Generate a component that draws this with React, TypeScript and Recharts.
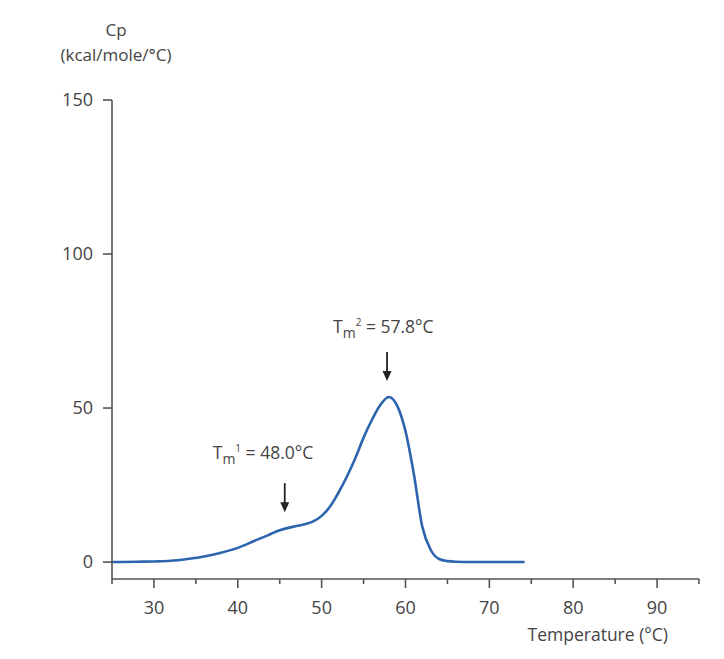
import { Customized, Line, LineChart, ReferenceDot, XAxis, YAxis } from "recharts";

// DSC trace: temperature (°C) vs excess heat capacity (kcal/mole/°C)
const temps = [25, 28, 30, 32, 34, 36, 38, 40, 42, 43, 44, 45, 46, 47, 48, 49, 50, 51, 52, 53, 54, 55, 56, 57, 58, 59, 60, 61, 62, 63, 64, 65, 66, 68, 70, 72, 74.2];
const cpValues = [0, 0.1, 0.2, 0.4, 1.0, 1.8, 3.0, 4.6, 6.9, 8.0, 9.2, 10.3, 11.1, 11.7, 12.3, 13.2, 15, 18, 22.5, 27.7, 33.6, 40.4, 46.2, 51, 53.6, 50.8, 42.5, 28.5, 11.5, 4, 1, 0.3, 0.1, 0, 0, 0, 0];

const xTicks = [25, 30, 35, 40, 45, 50, 55, 60, 65, 70, 75, 80, 85, 90, 95];
const yTicks = [0, 50, 100, 150];

// transition markers: arrow position, arrow tip height, label
const markTemps = [45.6, 57.8];
const markTips = [16.2, 58.8];
const markSubs = ["1", "2"];
const markLabels = ["48.0", "57.8"];

const data = temps.map((t, i) => ({ t, cp: cpValues[i] }));

const AXIS = "#555";
const TEXT = "#444";
const LINE = "#2d64ae";
const FONT = "'Open Sans', sans-serif";

function XTick({ x, y, payload }: any) {
  const major = payload.value % 10 === 0 && payload.value !== 95 && payload.value !== 25;
  return (
    <g>
      <line x1={x} x2={x} y1={y} y2={y + (major ? 9 : 5)} stroke={AXIS} strokeWidth={1.6} />
      {major && (
        <text x={x} y={y + 35} textAnchor="middle" fill={TEXT} fontSize={18}>
          {payload.value}
        </text>
      )}
    </g>
  );
}

function Mark({ cx, cy, sub, label, dx, dy }: any) {
  return (
    <g>
      <line x1={cx} x2={cx} y1={cy - 29} y2={cy - 6} stroke="#222" strokeWidth={1.8} />
      <path d={`M${cx - 4.5},${cy - 10} L${cx + 4.5},${cy - 10} L${cx},${cy} Z`} fill="#222" />
      <text x={cx + dx} y={cy + dy} fill={TEXT} fontSize={17.5}>
        <tspan>T</tspan>
        <tspan dy={5} fontSize={14}>m</tspan>
        <tspan dy={-12} fontSize={10}>{sub}</tspan>
        <tspan dy={7}>{` = ${label}°C`}</tspan>
      </text>
    </g>
  );
}

const markOffsets = [
  { dx: -72, dy: -53 },
  { dx: -54, dy: -48 }
];

function Titles() {
  return (
    <g fill={TEXT} fontSize={17}>
      <text x={116} y={36} textAnchor="middle">Cp</text>
      <text x={116} y={61} textAnchor="middle">(kcal/mole/°C)</text>
      <text x={668} y={641} textAnchor="end" fontSize={17.5}>Temperature (°C)</text>
    </g>
  );
}

export default function App() {
  return (
    <div style={{ position: "absolute", left: 0, top: 0, background: "#fff", fontFamily: FONT }}>
      <LineChart width={724} height={659} data={data} margin={{ top: 100, right: 25, bottom: 50, left: 52 }}>
        <XAxis
          dataKey="t"
          type="number"
          domain={[25, 95]}
          ticks={xTicks}
          interval={0}
          stroke={AXIS}
          strokeWidth={1.6}
          tickLine={false}
          tickSize={0}
          tickMargin={0}
          tick={<XTick />}
          height={30}
        />
        <YAxis
          type="number"
          domain={[-5.5, 150]}
          ticks={yTicks}
          allowDataOverflow
          stroke={AXIS}
          strokeWidth={1.6}
          tickSize={9}
          tickMargin={10}
          tick={{ fill: TEXT, fontSize: 18 }}
          width={60}
        />
        <Line
          type="monotone"
          dataKey="cp"
          stroke={LINE}
          strokeWidth={2.6}
          dot={false}
          isAnimationActive={false}
        />
        {markTemps.map((t, i) => (
          <ReferenceDot
            key={t}
            x={t}
            y={markTips[i]}
            r={0}
            shape={(p: any) => (
              <Mark cx={p.cx} cy={p.cy} sub={markSubs[i]} label={markLabels[i]} {...markOffsets[i]} />
            )}
          />
        ))}
        <Customized component={<Titles />} />
      </LineChart>
    </div>
  );
}
